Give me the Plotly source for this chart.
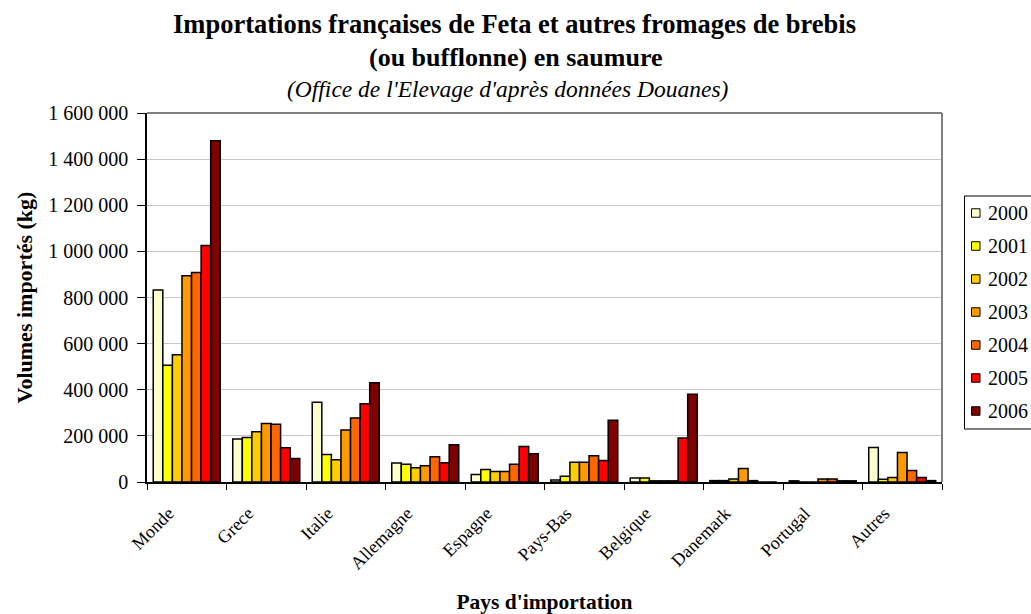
import plotly.graph_objects as go

categories = ["Monde", "Grece", "Italie", "Allemagne", "Espagne", "Pays-Bas",
              "Belgique", "Danemark", "Portugal", "Autres"]
years = ["2000", "2001", "2002", "2003", "2004", "2005", "2006"]

v2000 = [833000, 186000, 346000, 82000, 32000, 9000, 17000, 6000, 5000, 150000]
v2001 = [506000, 193000, 119000, 77000, 54000, 25000, 17000, 6000, 0, 12000]
v2002 = [552000, 218000, 97000, 62000, 45000, 86000, 5000, 13000, 0, 20000]
v2003 = [894000, 254000, 225000, 71000, 45000, 86000, 5000, 58000, 13000, 128000]
v2004 = [908000, 250000, 278000, 109000, 77000, 114000, 5000, 6000, 13000, 50000]
v2005 = [1025000, 148000, 339000, 84000, 154000, 93000, 191000, 0, 5000, 20000]
v2006 = [1480000, 102000, 430000, 161000, 123000, 268000, 380000, 0, 5000, 6000]

series = [v2000, v2001, v2002, v2003, v2004, v2005, v2006]
colors = ["#FFFFCC", "#FFFF00", "#FFCC00", "#FF9900", "#FF6600", "#FF0000", "#800000"]

FONT = "Liberation Serif"

W, H = 1031, 614
PL, PR, PT, PB = 147, 942, 113, 482          # plot area in screen pixels
L, T = PL, PT
R = W - PR
B = H - PB
pw = W - L - R
ph = H - T - B


def px_x(p):
    return (p - L) / pw


def px_y(p):
    return (H - B - p) / ph


fig = go.Figure()
for yr, vals, col in zip(years, series, colors):
    fig.add_trace(go.Bar(
        x=categories, y=vals, name=yr, showlegend=False,
        marker=dict(color=col, line=dict(color="black", width=1.5)),
    ))

annotations = [
    dict(xref="paper", yref="paper", x=px_x(514), y=px_y(24),
         yanchor="middle", xanchor="center", showarrow=False,
         text="<b>Importations françaises de Feta et autres fromages de brebis</b>",
         font=dict(family=FONT, size=26.5, color="black")),
    dict(xref="paper", yref="paper", x=px_x(516), y=px_y(57),
         yanchor="middle", xanchor="center", showarrow=False,
         text="<b>(ou bufflonne) en saumure</b>",
         font=dict(family=FONT, size=26, color="black")),
    dict(xref="paper", yref="paper", x=px_x(508), y=px_y(89),
         yanchor="middle", xanchor="center", showarrow=False,
         text="<i>(Office de l'Elevage d'après données Douanes)</i>",
         font=dict(family=FONT, size=23.5, color="black")),
]

shapes = [
    dict(type="line", xref="paper", yref="paper", x0=0, x1=1, y0=1, y1=1,
         line=dict(color="#808080", width=2)),
    dict(type="line", xref="paper", yref="paper", x0=1, x1=1, y0=0, y1=1,
         line=dict(color="#808080", width=2)),
    # legend box (clipped at the right edge like the reference)
    dict(type="rect", xref="paper", yref="paper",
         x0=px_x(964.5), x1=px_x(1045), y0=px_y(429), y1=px_y(196),
         line=dict(color="black", width=1), fillcolor="white", layer="above"),
]

# legend entries
for i, (yr, col) in enumerate(zip(years, colors)):
    cy = 213 + 33 * i
    shapes.append(dict(type="rect", xref="paper", yref="paper",
                       x0=px_x(971.5), x1=px_x(980), y0=px_y(cy + 4.25), y1=px_y(cy - 4.25),
                       line=dict(color="black", width=1), fillcolor=col, layer="above"))
    annotations.append(dict(xref="paper", yref="paper", x=px_x(986), y=px_y(cy),
                            xanchor="left", yanchor="middle", showarrow=False,
                            text=yr, font=dict(family=FONT, size=20, color="black")))

fig.update_layout(
    width=W, height=H,
    margin=dict(l=L, r=R, t=T, b=B, pad=0, autoexpand=False),
    paper_bgcolor="white", plot_bgcolor="white",
    barmode="group", bargap=0.157, bargroupgap=0,
    separators=", ",
    font=dict(family=FONT, color="black", size=18),
    showlegend=False,
    xaxis=dict(
        type="category", automargin=False,
        showline=True, linecolor="black", linewidth=1.5,
        ticks="outside", ticklen=6, tickcolor="black", tickson="boundaries",
        tickangle=-45, ticklabelshift=-18, ticklabelstandoff=12,
        tickfont=dict(family=FONT, size=18, color="black"),
        showgrid=False,
        title=dict(text="<b>Pays d'importation</b>",
                   font=dict(family=FONT, size=21.5, color="black"), standoff=23),
    ),
    yaxis=dict(
        range=[0, 1600000], dtick=200000, tickformat=",d", automargin=False,
        showline=True, linecolor="black", linewidth=1.5,
        ticks="outside", ticklen=8, tickcolor="black",
        tickfont=dict(family=FONT, size=20, color="black"),
        showgrid=True, gridcolor="#C8C8C8", gridwidth=1,
        zeroline=False,
        ticklabelstandoff=5,
        title=dict(text="<b>Volumes importés (kg)</b>",
                   font=dict(family=FONT, size=22, color="black"), standoff=10),
    ),
    annotations=annotations,
    shapes=shapes,
)

fig.write_html("out.html", config={"displayModeBar": False},
               post_script="document.body.style.margin='0';")
